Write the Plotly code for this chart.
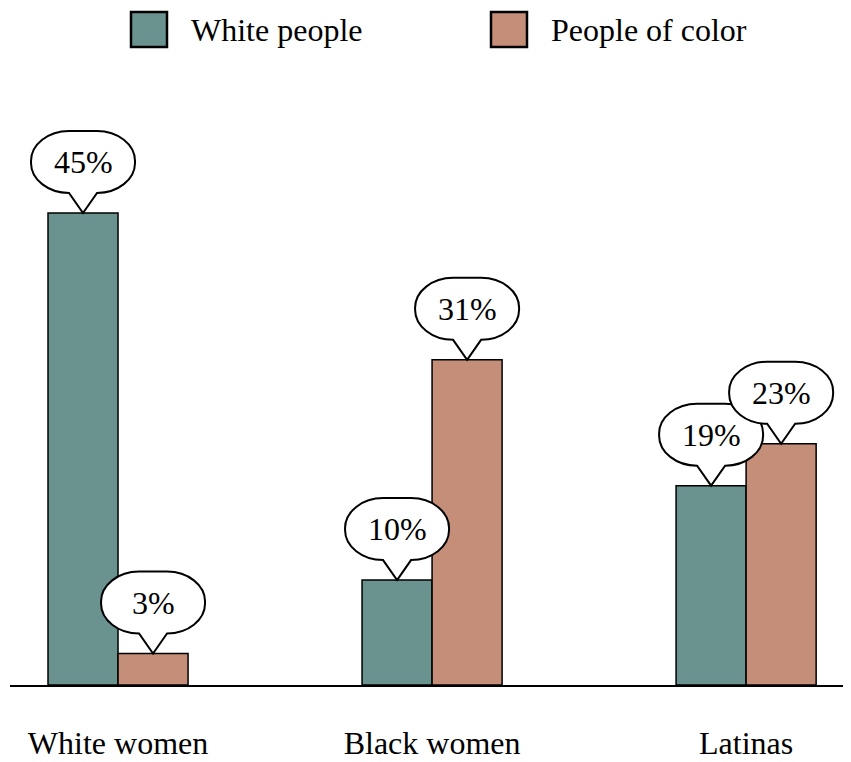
import plotly.graph_objects as go

categories = ['White women', 'Black women', 'Latinas']
white_people = [45, 10, 19]
people_of_color = [3, 31, 23]
series_names = ['White people', 'People of color']
colors = ['#6a928e', '#c58e78']

# the page body adds an 8px margin around the figure, so size it down
OFF = 8
W, H = 851 - OFF, 762 - OFF
M_L, M_R, M_T, M_B = 10 - OFF, 0, 100 - OFF, 77
BARGAP = 0.554
FONT = 'Liberation Serif, Times New Roman, serif'

fig = go.Figure()
for name, vals, col in zip(series_names, [white_people, people_of_color], colors):
    fig.add_trace(go.Bar(x=categories, y=vals, name=name, marker_color=col,
                         marker_line=dict(color='black', width=1.5), showlegend=False))


def bubble(w=52, base=20, top=82, tip=14, rx=38, ry=30):
    # callout bubble in pixels relative to the bar top (y goes up)
    k = 0.55
    return (f'M 0,0 L {tip},{base} L {w-rx},{base} '
            f'C {w-rx+rx*k},{base} {w},{base+ry-ry*k} {w},{base+ry} '
            f'L {w},{top-ry} '
            f'C {w},{top-ry+ry*k} {w-rx+rx*k},{top} {w-rx},{top} '
            f'L {-w+rx},{top} '
            f'C {-w+rx-rx*k},{top} {-w},{top-ry+ry*k} {-w},{top-ry} '
            f'L {-w},{base+ry} '
            f'C {-w},{base+ry-ry*k} {-w+rx-rx*k},{base} {-w+rx},{base} '
            f'L {-tip},{base} Z')


half = (1 - BARGAP) / 4
for i in range(len(categories)):
    for j, vals in enumerate([white_people, people_of_color]):
        xa = i - half if j == 0 else i + half
        fig.add_shape(type='path', path=bubble(), xref='x', yref='y',
                      xsizemode='pixel', ysizemode='pixel', xanchor=xa, yanchor=vals[i],
                      fillcolor='white', line=dict(color='black', width=2), layer='above')
        fig.add_annotation(x=xa, y=vals[i], xref='x', yref='y', text=f'{vals[i]}%',
                           showarrow=False, yshift=51, font=dict(size=32, color='black'))

# custom legend above the plot (positions in page pixels)
plot_w = W - M_L - M_R
plot_h = H - M_T - M_B


def px(xp):
    return (xp - OFF - M_L) / plot_w


def py(yp):
    return (H - M_B - (yp - OFF)) / plot_h


for name, col, x0 in zip(series_names, colors, [131, 491]):
    fig.add_shape(type='rect', xref='paper', yref='paper', x0=px(x0), x1=px(x0 + 36),
                  y0=py(47), y1=py(12), fillcolor=col, line=dict(color='black', width=2.5))
    fig.add_annotation(xref='paper', yref='paper', x=px(x0 + 58), y=py(30), text=name,
                       showarrow=False, xanchor='left', yanchor='middle',
                       font=dict(size=32, color='black'))

fig.update_layout(
    width=W, height=H, barmode='group', bargap=BARGAP, bargroupgap=0,
    margin=dict(l=M_L, r=M_R, t=M_T, b=M_B, autoexpand=False),
    plot_bgcolor='white', paper_bgcolor='white',
    font=dict(family=FONT, size=32, color='black'),
)
fig.update_xaxes(range=[-0.344, 2.334], showline=True, linecolor='black', linewidth=2,
                 showgrid=False, ticks='', ticklabelstandoff=29, tickfont=dict(size=32),
                 automargin=False)
fig.update_yaxes(range=[0, 585 / 10.49], visible=False, showgrid=False, automargin=False)

fig.write_html('out.html')
